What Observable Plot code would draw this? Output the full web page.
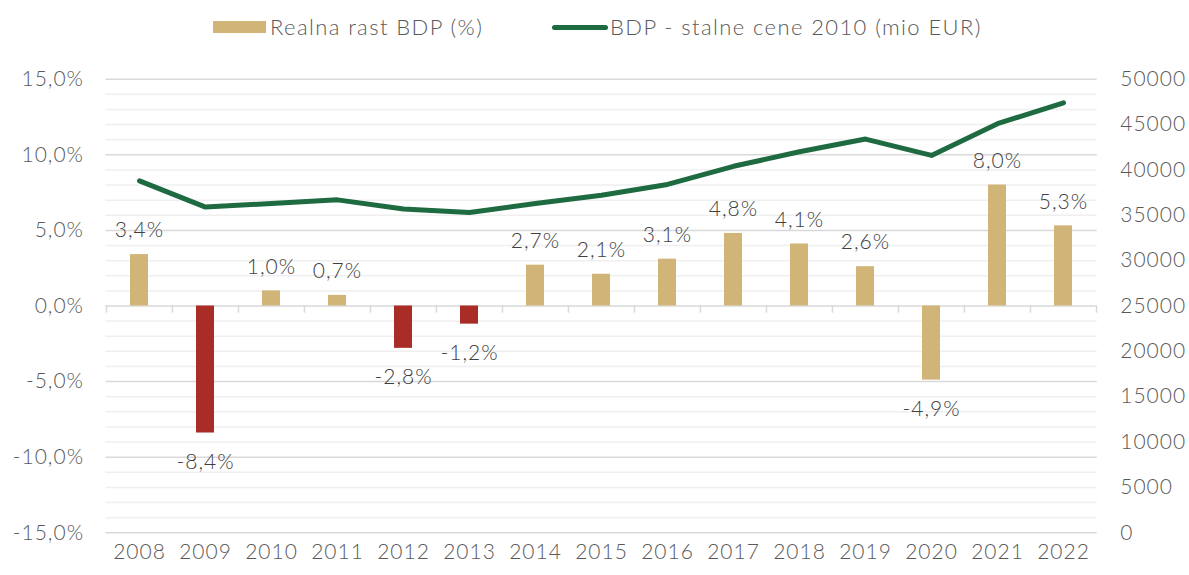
<!DOCTYPE html>
<html>
<head>
<meta charset="utf-8">
<script src="https://cdn.jsdelivr.net/npm/d3@7"></script>
<script src="https://cdn.jsdelivr.net/npm/@observablehq/plot@0.6"></script>
<style>
  html, body { margin: 0; padding: 0; background: #fff; }
  #wrap { position: relative; width: 1189px; height: 575px; font-family: Lato, "Open Sans", sans-serif; }
  #legend { position: relative; height: 50px; width: 1189px; }
  .lg-text { position: absolute; top: 14px; font-size: 22px; font-weight: 300; letter-spacing: 1.4px; color: #595959; line-height: 26px; white-space: nowrap; }
  .sw-bar { position: absolute; left: 213px; top: 21px; width: 53px; height: 12px; background: #D1B478; }
  .sw-line { position: absolute; left: 552px; top: 25px; width: 56px; height: 5px; border-radius: 3px; background: #1F6B41; }
  svg { display: block; }
</style>
</head>
<body>
<div id="wrap">
  <div id="legend">
    <div class="sw-bar"></div>
    <div class="lg-text" style="left:270px">Realna rast BDP (%)</div>
    <div class="sw-line"></div>
    <div class="lg-text" style="left:610px">BDP - stalne cene 2010 (mio EUR)</div>
  </div>
  <div id="chart"></div>
</div>
<script>
const years = [2008, 2009, 2010, 2011, 2012, 2013, 2014, 2015, 2016, 2017, 2018, 2019, 2020, 2021, 2022];
const growth = [3.4, -8.4, 1.0, 0.7, -2.8, -1.2, 2.7, 2.1, 3.1, 4.8, 4.1, 2.6, -4.9, 8.0, 5.3];
const gdp = [38800, 35900, 36300, 36700, 35700, 35300, 36300, 37200, 38400, 40400, 42000, 43400, 41600, 45100, 47400];
const redYears = [2009, 2012, 2013];
const leftTicks = [-15, -10, -5, 0, 5, 10, 15];
const rightTicks = [0, 5000, 10000, 15000, 20000, 25000, 30000, 35000, 40000, 45000, 50000];

const TAN = "#D1B478", RED = "#A92C27", GREEN = "#1F6B41";
const width = 1189, height = 525;
const mL = 105.5, mR = 92.3, mT = 28.7, mB = 42.7;
const step = (width - mL - mR) / years.length;

const rows = years.map((y, i) => ({year: String(y), growth: growth[i], gdp: gdp[i], red: redYears.includes(y)}));
const toLeft = v => v / 50000 * 30 - 15;   // right axis (mio EUR) -> left axis (%)
const fmtPct = v => v.toFixed(1).replace(".", ",") + "%";
const minor = d3.range(-15, 16, 1).filter(v => v % 5 !== 0);

const chart = Plot.plot({
  width, height,
  marginLeft: mL, marginRight: mR, marginTop: mT, marginBottom: mB,
  style: {fontFamily: "Lato, 'Open Sans', sans-serif", fontSize: "21px", fontWeight: 300, color: "#595959", background: "#fff"},
  x: {type: "band", domain: years.map(String), paddingInner: 0.73, paddingOuter: 0.365, label: null},
  y: {domain: [-15, 15], label: null},
  marks: [
    Plot.ruleY(minor, {stroke: "#efefef", strokeWidth: 1.5}),
    Plot.ruleY(leftTicks, {stroke: "#d9d9d9", strokeWidth: 1.5}),
    Plot.barY(rows, {x: "year", y: "growth", fill: d => d.red ? RED : TAN}),
    Plot.ruleX(rows, {x: "year", dx: -step / 2, y1: 0, y2: -0.47, stroke: "#d9d9d9", strokeWidth: 1.5}),
    Plot.ruleX([rows[rows.length - 1]], {x: "year", dx: step / 2, y1: 0, y2: -0.47, stroke: "#d9d9d9", strokeWidth: 1.5}),
    Plot.line(rows, {x: "year", y: d => toLeft(d.gdp), stroke: GREEN, strokeWidth: 5, strokeLinecap: "round", strokeLinejoin: "round"}),
    Plot.text(rows, {x: "year", y: "growth", text: d => fmtPct(d.growth), fill: "#404040", fontSize: 21,
      filter: d => d.growth >= 0, dy: -24, style: "letter-spacing:1.4px"}),
    Plot.text(rows, {x: "year", y: "growth", text: d => fmtPct(d.growth), fill: "#404040", fontSize: 21,
      filter: d => d.growth < 0, dy: 29}),
    Plot.axisY(leftTicks, {anchor: "left", tickSize: 0, tickPadding: 22, tickFormat: fmtPct, fill: "#595959", fontSize: 21}),
    Plot.axisY(rightTicks.map(toLeft), {anchor: "right", tickSize: 0, tickPadding: 23,
      tickFormat: t => String(Math.round((t + 15) / 30 * 50000)), fill: "#595959", fontSize: 21}),
    Plot.axisX({anchor: "bottom", tickSize: 0, tickPadding: 11, fill: "#595959", fontSize: 21})
  ]
});
chart.querySelectorAll("text").forEach(t => t.style.letterSpacing = "1px");
document.getElementById("chart").appendChild(chart);
</script>
</body>
</html>
